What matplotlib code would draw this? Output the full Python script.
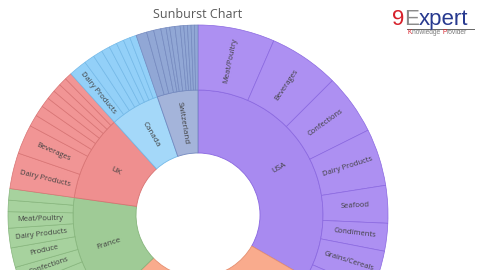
import numpy as np
import matplotlib
matplotlib.use("Agg")
import matplotlib.pyplot as plt

# countries clockwise from the top (Germany sits mostly below the crop)
countries = ["USA", "Germany", "France", "UK", "Canada", "Switzerland"]

usa_labels = ["Meat/Poultry", "Beverages", "Confections", "Dairy Products",
              "Seafood", "Condiments", "Grains/Cereals", ""]
usa_values = [23.5, 21.5, 18.5, 17.5, 11.5, 8.5, 12.5, 6.5]

germany_labels = [""] * 8
germany_values = [22, 18, 16, 14, 12, 10, 8, 6]

france_labels = ["", "", "Confections", "Produce", "Dairy Products", "Meat/Poultry", "", ""]
france_values = [12, 10, 6, 6, 6, 5, 3.5, 3.5]

uk_labels = ["Dairy Products", "Beverages", "", "", "", "", "", "", ""]
uk_values = [11, 9, 3.6, 3.3, 3.0, 2.8, 2.6, 2.5, 2.2]

canada_labels = ["Dairy Products", "", "", "", "", "", "", ""]
canada_values = [5.5, 3.2, 2.9, 2.6, 2.4, 2.3, 2.1, 2.0]

swiss_labels = [""] * 12
swiss_values = [3.3, 2.2, 2.2, 1.6, 1.1, 1.6, 1.6, 1.1, 1.1, 1.1, 1.0, 1.1]

cat_labels = [usa_labels, germany_labels, france_labels,
              uk_labels, canada_labels, swiss_labels]
cat_values = [usa_values, germany_values, france_values,
              uk_values, canada_values, swiss_values]

inner_colors = ["#A88AF0", "#F9AB8D", "#9FCB96", "#EF8F8F", "#A4D8F9", "#A4B4DA"]
outer_colors = ["#AD90F2", "#FBB293", "#A7D29E", "#F19595", "#93D0F8", "#91A7D5"]
edge_colors = ["#8A68E0", "#E58F70", "#86B57C", "#D87373", "#74B9E8", "#7489BF"]

cx, cy = 198, 55
r_hole, r_mid, r_out = 62, 125, 190

fig = plt.figure(figsize=(4.8, 2.7), dpi=100)
ax = fig.add_axes([0, 0, 1, 1])

country_totals = [sum(v) for v in cat_values]
inner, _ = ax.pie(country_totals, radius=r_mid, center=(cx, cy), startangle=90,
                  counterclock=False, colors=inner_colors,
                  wedgeprops=dict(width=r_mid - r_hole, linewidth=0.6))
for w, ec in zip(inner, edge_colors):
    w.set_edgecolor(ec)

flat_vals, flat_cols, flat_edges, flat_labels = [], [], [], []
for vals, labs, oc, ec in zip(cat_values, cat_labels, outer_colors, edge_colors):
    flat_vals += vals
    flat_labels += labs
    flat_cols += [oc] * len(vals)
    flat_edges += [ec] * len(vals)

outer, _ = ax.pie(flat_vals, radius=r_out, center=(cx, cy), startangle=90,
                  counterclock=False, colors=flat_cols,
                  wedgeprops=dict(width=r_out - r_mid, linewidth=0.5))
for w, ec in zip(outer, flat_edges):
    w.set_edgecolor(ec)


def radial_labels(wedges, labels, r, size):
    for w, lab in zip(wedges, labels):
        if not lab:
            continue
        mid = (w.theta1 + w.theta2) / 2
        a = np.deg2rad(mid)
        rot = mid % 360
        if 90 < rot < 270:
            rot -= 180
        ax.text(cx + r * np.cos(a), cy + r * np.sin(a), lab, rotation=rot,
                rotation_mode="anchor", ha="center", va="center",
                fontsize=size, color="#404040", family="Open Sans")


radial_labels(inner, ["USA", "", "France", "UK", "Canada", "Switzerland"],
              (r_hole + r_mid) / 2, 5.8)
radial_labels(outer, flat_labels, (r_mid + r_out) / 2, 5.5)

ax.set_xlim(0, 480)
ax.set_ylim(0, 270)
ax.set_aspect("equal")
ax.axis("off")

ax.text(cx, 256, "Sunburst Chart", ha="center", va="center", fontsize=9,
        color="#595959", family="Open Sans")

# logo
logo = dict(fontsize=16, family="Liberation Sans")
t9 = ax.text(392, 245, "9", color="#D6202A", va="baseline", **logo)
tE = ax.annotate("E", xy=(1, 0), xycoords=t9, ha="left", va="bottom",
                 color="#8A8A8A", **logo)
ax.annotate("xpert", xy=(1, 0), xycoords=tE, ha="left", va="bottom",
            color="#27398F", **logo)
ax.plot([407, 474], [241.5, 241.5], color="#666666", lw=0.7)
small = dict(fontsize=4.8, family="Liberation Sans")
tk = ax.text(408, 238, "K", color="#D6202A", va="center", **small)
tn = ax.annotate("nowledge ", xy=(1, 0), xycoords=tk, ha="left", va="bottom",
                 color="#7A7A7A", **small)
tp = ax.annotate("P", xy=(1, 0), xycoords=tn, ha="left", va="bottom",
                 color="#D6202A", **small)
ax.annotate("rovider", xy=(1, 0), xycoords=tp, ha="left", va="bottom",
            color="#7A7A7A", **small)

fig.savefig("out.png", dpi=100)
